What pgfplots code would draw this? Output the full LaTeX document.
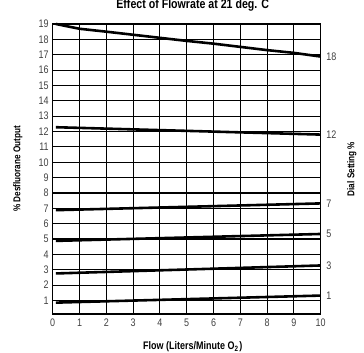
\documentclass[border=0pt]{standalone}
\usepackage{fontspec}
\setmainfont{Liberation Sans}[FakeStretch=0.82]
\usepackage{pgfplots}
\pgfplotsset{compat=1.18}
\tikzset{
  lbl/.style={font=\fontsize{11}{12}\selectfont, text=black!75, anchor=west, xshift=1bp},
  curve/.style={black, line width=2.6pt, mark=none},
}
\begin{document}
\begin{tikzpicture}
\begin{axis}[
  name=ax,
  scale only axis,
  width=268bp, height=290bp,
  xmin=0, xmax=10, ymin=0.12, ymax=19,
  xtick={0,...,10}, ytick={1,...,19},
  grid=major,
  major grid style={black, line width=1.1pt},
  axis line style={black, line width=1.2pt},
  major tick length=0pt,
  tick label style={font=\fontsize{11}{12}\selectfont, text=black!75},
  xticklabel style={yshift=-1bp},
  yticklabel style={xshift=-0.5bp},
  /pgf/number format/assume math mode=true,
  clip=false,
]
\addplot[curve] coordinates {(0.12,19.0) (1,18.69) (2,18.5) (4,18.1) (5,17.9) (6,17.72) (8,17.3) (9,17.12) (10,16.88)}
  node[lbl, pos=1] {18};
\addplot[curve] coordinates {(0.12,12.28) (10,11.8)} node[lbl, pos=1] {12};
\addplot[curve] coordinates {(0.12,6.88) (10,7.32)} node[lbl, pos=1] {7};
\addplot[curve] coordinates {(0.12,4.88) (10,5.33)} node[lbl, pos=1] {5};
\addplot[curve] coordinates {(0.12,2.76) (10,3.28)} node[lbl, pos=1] {3};
\addplot[curve] coordinates {(0.12,0.86) (10,1.32)} node[lbl, pos=1] {1};
\end{axis}
\node[font=\bfseries\fontsize{13}{14}\selectfont, anchor=base] at ([xshift=6bp,yshift=15bp]ax.north) {Effect of Flowrate at 21 deg. C};
\node[font=\bfseries\fontsize{11}{12}\selectfont] at ([xshift=6bp,yshift=-33bp]ax.south) {Flow (Liters/Minute O$_{\mathbf{2}}$)};
\node[font=\bfseries\fontsize{10}{11}\selectfont, rotate=90] at ([xshift=-35bp]ax.west) {\% Desfluorane Output};
\node[font=\bfseries\fontsize{10}{11}\selectfont, rotate=90] at ([xshift=31bp]ax.east) {Dial Setting \%};
\pgfresetboundingbox
\path ([xshift=-52.7bp,yshift=-39bp]ax.south west) rectangle ([xshift=43.3bp,yshift=24bp]ax.north east);
\end{tikzpicture}
\end{document}
